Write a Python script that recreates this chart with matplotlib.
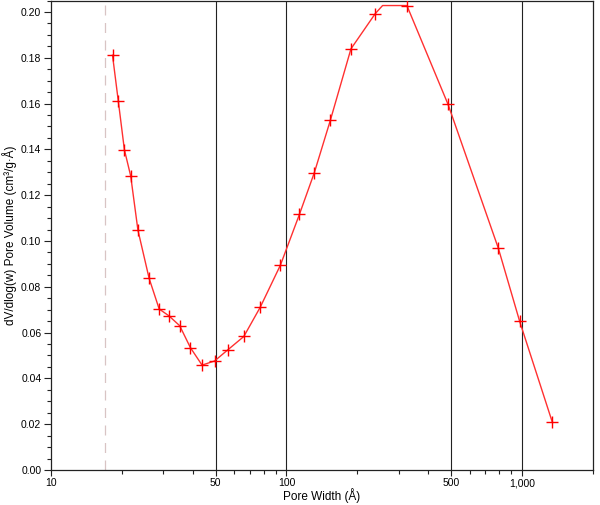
import matplotlib.pyplot as plt
from matplotlib.ticker import FixedLocator, NullFormatter, FuncFormatter

plt.rcParams['font.family'] = ['Liberation Sans', 'DejaVu Sans']

# measured points (pore width in Angstrom, dV/dlog(w))
pore_width = [18.25, 19.3, 20.5, 21.8, 23.4, 26.1, 28.8, 31.7, 35.2, 39.1, 43.8,
              49.5, 56.4, 65.9, 77.4, 94.3, 113.5, 131.4, 153.6, 187.9, 238.4,
              324.7, 485.8, 793.6, 977.6, 1344.0]
pore_volume = [0.1811, 0.1613, 0.1398, 0.1284, 0.1047, 0.0837, 0.0703, 0.0673,
               0.0630, 0.0534, 0.0458, 0.0476, 0.0525, 0.0583, 0.0711, 0.0895,
               0.1116, 0.1299, 0.1527, 0.1839, 0.1993, 0.2028, 0.1596, 0.0969,
               0.0650, 0.0211]

# curve vertices (adds the plateau start before the peak point)
curve_width = pore_width[:21] + [256.0] + pore_width[21:]
curve_volume = pore_volume[:21] + [0.2028] + pore_volume[21:]

grid_at = [50, 100, 500, 1000]
dashed_at = 17.0
x_labels = {10: '10', 50: '50', 100: '100', 500: '500', 1000: '1,000'}

fig = plt.figure(figsize=(6.0, 5.05), dpi=100)
ax = fig.add_axes([0.085, 0.0693, 0.903, 0.9297])

ax.plot(curve_width, curve_volume, color='#ff3030', lw=1.0, zorder=3)
ax.plot(pore_width, pore_volume, ls='none', marker='+', ms=8, mew=1.0,
        color='#ff0000', zorder=4)

for g in grid_at:
    ax.axvline(g, color='#222222', lw=0.8, zorder=1)
ax.axvline(dashed_at, color='#d8c4c4', lw=0.9, ls=(0, (8, 6)), zorder=1)

ax.set_xscale('log')
ax.set_xlim(10, 2000)
ax.set_ylim(0, 0.205)

ax.xaxis.set_major_locator(FixedLocator(list(x_labels.keys())))
ax.xaxis.set_major_formatter(FuncFormatter(lambda v, p: x_labels.get(int(round(v)), '')))
minor_x = [20, 30, 40, 60, 70, 80, 90, 200, 300, 400, 600, 700, 800, 900, 2000]
ax.xaxis.set_minor_locator(FixedLocator(minor_x))
ax.xaxis.set_minor_formatter(NullFormatter())

ax.set_yticks([i * 0.02 for i in range(11)])
ax.set_yticks([i * 0.005 for i in range(42)], minor=True)
ax.yaxis.set_major_formatter(FuncFormatter(lambda v, p: f'{v:.2f}'))

ax.tick_params(axis='both', which='major', direction='out', length=4, width=0.8,
               labelsize=7.5, color='#222222', pad=2)
ax.tick_params(axis='y', which='major', length=5, pad=2)
ax.tick_params(axis='both', which='minor', direction='out', length=3, width=0.8,
               color='#222222')
for s in ax.spines.values():
    s.set_linewidth(0.9)
    s.set_color('#222222')

ax.set_xlabel('Pore Width (Å)', fontsize=8.5, labelpad=0)
ax.set_ylabel('dV/dlog(w) Pore Volume (cm³/g·Å)', fontsize=8.5, labelpad=3)

fig.savefig('out.png', dpi=100)
